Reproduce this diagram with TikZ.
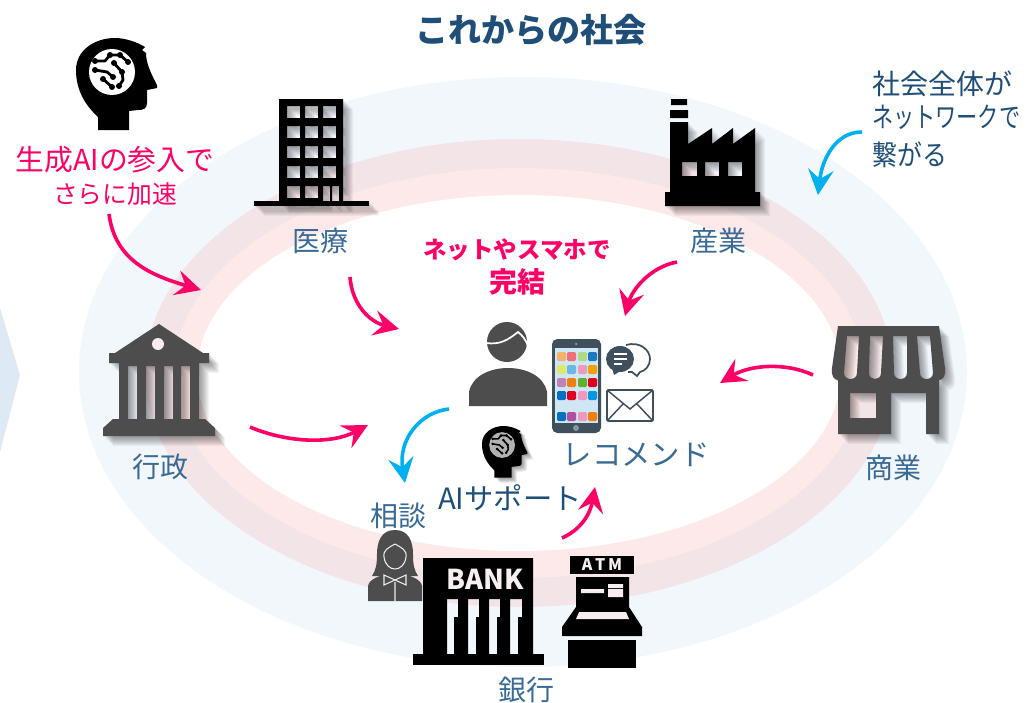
\documentclass[tikz,border=0pt]{standalone}
\usepackage{fontspec}
\usepackage{graphicx}
\setmainfont{Noto Sans CJK JP}
\usetikzlibrary{arrows.meta}
\definecolor{titleblue}{HTML}{1F4E79}
\definecolor{labelblue}{HTML}{3A6A96}
\definecolor{hotpink}{HTML}{FF0066}
\definecolor{skyline}{HTML}{00B0F0}
\definecolor{icongray}{HTML}{4D4D4D}
\definecolor{slate}{HTML}{3F4F5C}
\definecolor{ringblue}{HTML}{F2F7FC}
\definecolor{ringmix}{HTML}{F3E4E8}
\definecolor{ringpink}{HTML}{FDE9E9}
\definecolor{chev}{HTML}{DDE9F5}
\definecolor{screenblue}{HTML}{CFE6F5}
\newcommand\softshadow[1]{\foreach \dd in {1,...,10}{\fill[black,opacity=.045,even odd rule,shift={(\dd,\dd)}] #1;}}
\newcommand\shadowfill[2]{\softshadow{#2}\fill[#1,even odd rule] #2;}
\newcommand\headpath{(98,130) -- (98,117) .. controls (85,105) and (76,90) .. (76,70) .. controls (76,50) and (95,38) .. (115,38) .. controls (125,38) and (137,42) .. (145,47) -- (142,50) -- (146,53) .. controls (146,62) and (150,72) .. (157,85) -- (157,88) -- (147,90) -- (147,103) .. controls (147,109) and (143,110) .. (138,110) -- (129,111) -- (129,130) -- cycle}
\newcommand\headtraces[1]{%
  \draw[trace] (95,61) -- (105,61) -- (110,55) -- (120,55) -- (128,62);
  \draw[trace] (95,70) -- (107,72) -- (113,77);
  \draw[trace] (114,63) -- (122,72) -- (123,80) -- (119,86);
  \draw[trace] (103,79) -- (112,87);
  \foreach \p in {(95,61),(110,55),(120,55),(128,62),(95,70),(113,77),(114,63),(122,72),(119,86),(103,79),(112,87)}{\fill \p circle (#1);}}
\tikzset{
  trace/.style={line width=2.1pt,black,line join=round},
  cap label/.style={text=labelblue,font=\fontsize{21}{25}\selectfont,inner sep=0pt},
  arrowpink/.style={draw=hotpink,line width=2.7pt,-{Stealth[length=19pt,width=19pt,inset=7pt]}},
  arrowsky/.style={draw=skyline,line width=2.7pt,-{Stealth[length=19pt,width=19pt,inset=7pt]}},
}
\begin{document}
\begin{tikzpicture}[x=0.75pt,y=-0.75pt]
\useasboundingbox (0,0) rectangle (1026,703);
\fill[white] (0,0) rectangle (1026,703);
% rings
\fill[ringblue] (523,372) ellipse [x radius=444,y radius=295];
\fill[ringmix]  (519,373) ellipse [x radius=374,y radius=234];
\fill[ringpink] (519,373) ellipse [x radius=345,y radius=205];
\fill[white]    (519,373) ellipse [x radius=322,y radius=178];
% chevron
\fill[chev] (0,308) -- (20,375) -- (0,452) -- cycle;
% AI head
\fill[black] \headpath;
\fill[white] (112,72) circle (23);
\headtraces{3}
% office
\softshadow{(254,201) rectangle (369,206)}
\shadowfill{black}{(279,99) rectangle (343,203)
  (287,106) rectangle (300,118) (305,106) rectangle (318,118) (323,106) rectangle (336,118)
  (287,126) rectangle (300,138) (305,126) rectangle (318,138) (323,126) rectangle (336,138)
  (287,146) rectangle (300,158) (305,146) rectangle (318,158) (323,146) rectangle (336,158)
  (287,166) rectangle (300,178) (305,166) rectangle (318,178) (323,166) rectangle (336,178)
  (287,186) rectangle (300,198) (305,186) rectangle (318,198) (323,186) rectangle (330,202) (332,186) rectangle (339,202)}
\fill[black] (254,201) rectangle (369,206);
% factory
\shadowfill{black}{(670,122) -- (688,122) -- (688,144) -- (712,128) -- (712,144) -- (733,128) -- (733,144) -- (755,128) -- (755,192) -- (760,192) -- (760,206) -- (665,206) -- (665,192) -- (670,192) -- cycle
  (682,162) rectangle (697,176) (705,162) rectangle (719,176) (728,162) rectangle (742,176)}
\fill[black] (671,99) rectangle (687,105) (670,110) rectangle (688,118);
% temple
\shadowfill{icongray}{(159,324) -- (203,353) -- (209,353) -- (209,363) -- (199,363) -- (199,419) -- (205,419) -- (215,428) -- (215,436) -- (103,436) -- (103,428) -- (113,419) -- (119,419) -- (119,363) -- (109,363) -- (109,353) -- (115,353) -- cycle
  (128,366) rectangle (137,419) (146,366) rectangle (155,419) (164,366) rectangle (173,419) (181,366) rectangle (190,419)}
\fill[ringmix!70!white] (158,344) circle (6);
% shop
\shadowfill{icongray}{(838,326) -- (939,326) -- (945,368) .. controls (946,376) and (943,380) .. (939,380) -- (939,434) -- (926,434) -- (926,393) -- (891,393) -- (891,434) -- (838,434) -- (838,380) .. controls (834,380) and (831,376) .. (832,368) -- cycle
  (847,336) -- (859,336) -- (857,373) .. controls (857,381) and (844,381) .. (844,373) -- cycle
  (870,336) -- (883,336) -- (881,373) .. controls (881,381) and (869,381) .. (869,373) -- cycle
  (893,336) -- (907,336) -- (907,373) .. controls (907,381) and (894,381) .. (894,373) -- cycle
  (917,336) -- (930,336) -- (933,373) .. controls (933,381) and (920,381) .. (920,373) -- cycle
  (850,393) rectangle (876,418)}
% person
\fill[icongray] (507,342) circle (20);
\fill[icongray] (469,406) -- (469,392) .. controls (472,376) and (490,368) .. (508,368) .. controls (526,368) and (544,376) .. (547,392) -- (547,406) -- cycle;
\draw[white,line width=1.3pt] (486,343) .. controls (500,345) and (508,340) .. (518,332) .. controls (522,335) and (526,340) .. (528,346);
% phone
\fill[slate,rounded corners=4pt] (552,339) rectangle (601,433);
\fill[screenblue] (555,348) rectangle (598,423);
\fill[slate!60!white] (576,428) circle (3);
\fill[slate!40!white] (576,344) circle (1);
\foreach \cx/\cy/\cc in {557/352/F5B26B,567/352/F0707A,578/352/B0D885,588/352/1E78C8,
  557/365/DDE86E,567/365/6CB8E0,578/365/EE9ABF,588/365/F2A008,
  557/378/C080B8,567/378/EE8010,578/378/60B030,588/378/E00020,
  557/391/0870C0,567/391/E00020,578/391/EE9ABF,588/391/0898E0,
  557/412/0870C0,567/412/B050A0,578/412/EE9ABF,588/412/EE8010}{
  \definecolor{appc}{HTML}{\cc}
  \fill[appc,rounded corners=1pt] (\cx,\cy) rectangle ++(9,9);}
% chat bubbles
\draw[slate,line width=1.3pt] (626,345) .. controls (640,341) and (650,350) .. (650,359) .. controls (650,366) and (645,371) .. (640,372) -- (637,376) -- (632,372) -- (628,372);
\fill[slate] (620,359) ellipse [x radius=14,y radius=13];
\fill[slate] (612,368) -- (614,375) -- (622,370) -- cycle;
\draw[white,line width=1pt] (614,354) -- (627,354) (614,359) -- (627,359) (614,364) -- (622,364);
% envelope
\draw[slate,line width=1.3pt,rounded corners=1pt] (607,390) rectangle (653,421);
\draw[slate,line width=1.1pt] (607,390) -- (630,409) -- (653,390) (607,421) -- (623,404) (653,421) -- (637,404);
% small head
\begin{scope}[shift={(439.4,404.7)},scale=.56]
\softshadow{\headpath}
\fill[black] \headpath;
\fill[gray!60!white] (112,72) circle (23);
\tikzset{trace/.style={line width=1.2pt,black}}
\headtraces{2.5}
\end{scope}
% woman
\fill[icongray] (395,530) .. controls (381,530) and (377,542) .. (377,554) .. controls (377,564) and (376,570) .. (372,576) -- (418,576) .. controls (414,570) and (413,564) .. (413,554) .. controls (413,542) and (409,530) .. (395,530) -- cycle;
\fill[icongray] (368,601) -- (368,586) .. controls (369,579) and (380,576) .. (386,574) -- (404,574) .. controls (410,576) and (421,579) .. (422,586) -- (422,601) -- cycle;
\draw[white!85!gray,line width=.8pt] (395,544) .. controls (388,548) and (383,550) .. (384,557) .. controls (385,565) and (390,569) .. (395,569) .. controls (400,569) and (405,565) .. (406,557) .. controls (407,550) and (402,548) .. (395,544);
\draw[white!85!gray,line width=.8pt] (395,582) -- (395,601) (384,575) -- (395,580) -- (406,575) -- (406,585) -- (395,580) -- (384,585) -- cycle;
% bank
\fill[black,even odd rule] (423,558) rectangle (533,654)
  (447,599) -- (458,599) -- (458,617) -- (454,617) -- (454,654) -- (447,654) -- cycle
  (468,599) -- (479,599) -- (479,617) -- (476,617) -- (476,654) -- (468,654) -- cycle
  (489,599) -- (500,599) -- (500,617) -- (497,617) -- (497,654) -- (489,654) -- cycle
  (510,599) -- (522,599) -- (522,617) -- (518,617) -- (518,654) -- (510,654) -- cycle;
\fill[black] (413,654) rectangle (544,665);
\node[text=ringmix!60!white,font=\fontsize{20.5}{24}\selectfont\bfseries,inner sep=0pt] (banksign) at (485,579) {BANK};
% atm
\fill[black] (570,556) rectangle (634,574);
\node[text=ringmix!60!white,font=\fontsize{12}{14}\selectfont\bfseries,inner sep=0pt] (atmsign) at (602,565) {A\,T\,M};
\fill[black] (576,577) -- (629,577) -- (629,607) -- (642,627) -- (642,636) -- (562,636) -- (562,627) -- (576,607) -- cycle;
\fill[black] (568,640) rectangle (636,668);
\fill[ringmix!70!white] (579,612) -- (626,612) -- (629,619) -- (576,619) -- cycle;
\fill[ringmix!70!white] (581,589) rectangle (604,593) (608,584) rectangle (623,588) (608,589) rectangle (623,597);
% text
\node[text=titleblue,font=\fontsize{24.8}{28}\selectfont\bfseries,inner sep=0pt] (title) at (531,30) {これからの社会};
\node[text=hotpink,align=center,inner sep=0pt] (genai) at (115,176) {\fontsize{21.6}{26}\selectfont 生成AIの参入で\\[6pt]\fontsize{18.6}{26}\selectfont さらに加速};
\node[text=titleblue,align=left,inner sep=0pt,anchor=west] (network) at (872,119) {\fontsize{21}{26.5}\selectfont 社会全体が\\[5pt]\scalebox{.755}[1]{\fontsize{21}{26.5}\selectfont ネットワークで}\\[8pt]\scalebox{.89}[1]{\fontsize{21}{26.5}\selectfont 繋がる}};
\node[text=hotpink,align=center,inner sep=0pt] (netsumaho) at (517,267) {\fontsize{17.6}{26}\selectfont\bfseries ネットやスマホで\\[5pt]\fontsize{21}{26}\selectfont\bfseries 完結};
\node[cap label] (iryo) at (320,241) {医療};
\node[cap label] (sangyo) at (718,241) {産業};
\node[cap label] (gyosei) at (160,467) {行政};
\node[cap label] (shogyo) at (893,468) {商業};
\node[cap label] (ginko) at (526,690) {銀行};
\node[cap label] (sodan) at (398,516) {相談};
\node[cap label,font=\fontsize{22}{25}\selectfont] (recommend) at (636,455) {レコメンド};
\node[cap label,text=titleblue,font=\fontsize{22}{25}\selectfont] (aisupport) at (510,498) {AIサポート};
% connectors
\coordinate (c1s) at (109,214); \coordinate (c1e) at (201,290);
\coordinate (c2s) at (350,277); \coordinate (c2e) at (399,329);
\coordinate (c3s) at (677,262); \coordinate (c3e) at (625,316);
\coordinate (c4s) at (813,375); \coordinate (c4e) at (720,383);
\coordinate (c5s) at (250,427); \coordinate (c5e) at (368,425);
\coordinate (c6s) at (449,409); \coordinate (c6e) at (405,483);
\coordinate (c7s) at (862,132); \coordinate (c7e) at (818,195);
\coordinate (c8s) at (562,538); \coordinate (c8e) at (595,487);
\draw[arrowpink] (c1s) .. controls (115,260) and (150,275) .. (c1e);
\draw[arrowpink] (c2s) .. controls (352,305) and (370,322) .. (c2e);
\draw[arrowpink] (c3s) .. controls (650,267) and (632,290) .. (c3e);
\draw[arrowpink] (c4s) .. controls (785,362) and (750,365) .. (c4e);
\draw[arrowpink] (c5s) .. controls (285,442) and (330,445) .. (c5e);
\draw[arrowpink] (c8s) .. controls (580,530) and (590,515) .. (c8e);
\draw[arrowsky] (c6s) .. controls (420,412) and (398,440) .. (c6e);
\draw[arrowsky] (c7s) .. controls (835,132) and (822,160) .. (c7e);
\end{tikzpicture}
\end{document}
